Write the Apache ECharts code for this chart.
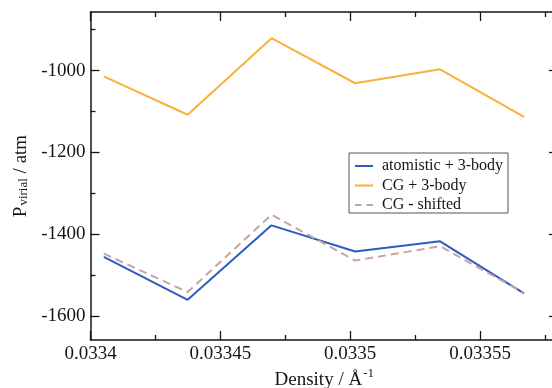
<!DOCTYPE html>
<html>
<head>
<meta charset="utf-8">
<script src="https://cdn.jsdelivr.net/npm/echarts@6/dist/echarts.min.js"></script>
<style>html,body{margin:0;padding:0;background:#fff}#c{width:552px;height:388px}</style>
</head>
<body>
<div id="c"></div>
<script>
const density = [0.0334051, 0.0334374, 0.0334697, 0.0335019, 0.0335346, 0.0335669];
const atomistic3body = [-1455, -1560, -1378, -1442, -1417, -1544];
const cg3body = [-1014, -1108, -921, -1031, -997, -1113];
const cgShifted = [-1447, -1541, -1352, -1464, -1429, -1543];
const xMajorTicks = [0.0334, 0.03345, 0.0335, 0.03355];
const xMinorTicks = [0.033425, 0.033475, 0.033525, 0.033575];
const yMajorTicks = [-1600, -1400, -1200, -1000];
const yMinorTicks = [-1500, -1300, -1100, -900];
const seriesNames = ['atomistic + 3-body', 'CG + 3-body', 'CG - shifted'];

const X_MIN = 0.0334, X_MAX = 0.03358, Y_MIN = -1658, Y_MAX = -857;
const FONT = '"Liberation Serif", "DejaVu Serif", serif';
const INK = '#151515';
const lineW = 1.5;
const COLORS = ['#2d5bc4', '#fbb03b', '#c9a3a3'];
const SOLID_ICON = 'path://M0,0H18V2H0Z';
const DASH_ICON = 'path://M0,0H6.5V2H0Z M11.5,0H18V2H11.5Z';

function xAx(pos, ticks, len, labels, showLine) {
  return {
    type: 'value', position: pos, min: X_MIN, max: X_MAX,
    splitLine: { show: false },
    axisLine: { show: showLine, onZero: false, lineStyle: { color: INK, width: lineW } },
    axisTick: { show: true, inside: true, length: len, customValues: ticks, lineStyle: { color: INK, width: 1.3 } },
    axisLabel: labels ? {
      show: true, customValues: labels, margin: 5, color: INK, fontFamily: FONT, fontSize: 19,
      formatter: v => String(+(+v).toFixed(6))
    } : { show: false }
  };
}
function yAx(pos, ticks, len, labels, showLine) {
  return {
    type: 'value', position: pos, min: Y_MIN, max: Y_MAX,
    splitLine: { show: false },
    axisLine: { show: showLine, onZero: false, lineStyle: { color: INK, width: lineW } },
    axisTick: { show: true, inside: true, length: len, customValues: ticks, lineStyle: { color: INK, width: 1.3 } },
    axisLabel: labels ? {
      show: true, customValues: labels, margin: 5, color: INK, fontFamily: FONT, fontSize: 19,
      formatter: v => String(v)
    } : { show: false }
  };
}

const xAxes = [
  xAx('bottom', xMajorTicks, 9, xMajorTicks, true),
  xAx('bottom', xMinorTicks, 5, null, false),
  xAx('top', xMajorTicks, 9, null, true),
  xAx('top', xMinorTicks, 5, null, false)
];
Object.assign(xAxes[0], {
  name: 'Density / Å{sup|-1}', nameLocation: 'middle', nameGap: 30, nameMoveOverlap: false,
  nameTextStyle: {
    color: INK, fontFamily: FONT, fontSize: 19,
    rich: {
      sup: { fontFamily: FONT, fontSize: 13, color: INK, padding: [0, 0, 10, 1], verticalAlign: 'bottom', lineHeight: 20 }
    }
  }
});
const yAxes = [
  yAx('left', yMajorTicks, 9, yMajorTicks, true),
  yAx('left', yMinorTicks, 5, null, false),
  yAx('right', yMajorTicks, 9, null, true),
  yAx('right', yMinorTicks, 5, null, false)
];
Object.assign(yAxes[0], {
  name: '{m|P}{s|virial}{m| / atm}', nameLocation: 'middle', nameGap: 59, nameMoveOverlap: false,
  nameTextStyle: {
    color: INK, fontFamily: FONT, fontSize: 19,
    rich: {
      m: { fontFamily: FONT, fontSize: 19, color: INK, lineHeight: 20, verticalAlign: 'top' },
      s: { fontFamily: FONT, fontSize: 13, color: INK, lineHeight: 20, padding: [6, 0, 0, 1], verticalAlign: 'top' }
    }
  }
});

function pts(ys) { return density.map((x, i) => [x, ys[i]]); }

const chart = echarts.init(document.getElementById('c'), null, { renderer: 'canvas' });
chart.setOption({
  animation: false,
  backgroundColor: '#fff',
  grid: { left: 90.5, top: 12, width: 467.5, height: 328, containLabel: false, outerBoundsMode: 'none' },
  xAxis: xAxes,
  yAxis: yAxes,
  legend: {
    left: 349, top: 153, orient: 'vertical',
    data: [
      { name: seriesNames[0], icon: SOLID_ICON, itemStyle: { color: COLORS[0] } },
      { name: seriesNames[1], icon: SOLID_ICON, itemStyle: { color: COLORS[1] } },
      { name: seriesNames[2], icon: DASH_ICON, itemStyle: { color: COLORS[2] } }
    ],
    backgroundColor: '#fff',
    borderColor: '#555', borderWidth: 1,
    padding: [5, 5, 0, 6], itemGap: 3.5, itemWidth: 18, itemHeight: 2,
    textStyle: { fontFamily: FONT, fontSize: 16, color: INK, padding: [0, 0, 0, 4] }
  },
  series: [
    { name: seriesNames[0], type: 'line', data: pts(atomistic3body), symbol: 'none', lineStyle: { color: COLORS[0], width: 2 }, itemStyle: { color: COLORS[0] } },
    { name: seriesNames[1], type: 'line', data: pts(cg3body), symbol: 'none', lineStyle: { color: COLORS[1], width: 2 }, itemStyle: { color: COLORS[1] } },
    { name: seriesNames[2], type: 'line', data: pts(cgShifted), symbol: 'none', lineStyle: { color: COLORS[2], width: 2, type: [8, 5] }, itemStyle: { color: COLORS[2] } }
  ]
});
</script>
</body>
</html>
